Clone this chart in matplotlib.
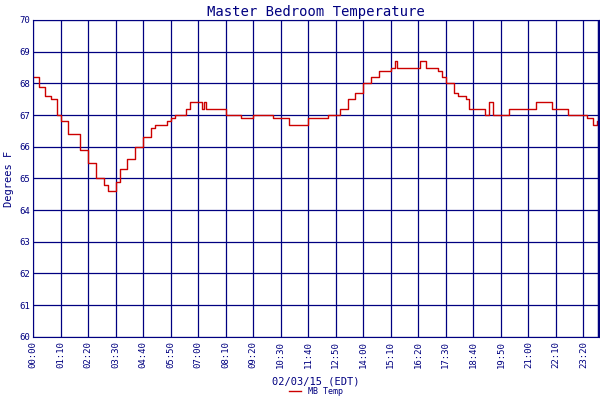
import matplotlib
matplotlib.use("Agg")
import matplotlib.pyplot as plt

times = ["00:00","00:15","00:30","00:45","01:00","01:10","01:30","02:00","02:20","02:40","03:00","03:10","03:20","03:30","03:40","04:00","04:20","04:40","05:00","05:10","05:40","05:50","06:00","06:30","06:40","07:00","07:10","07:15","07:20","08:00","08:10","08:40","08:50","09:20","10:00","10:10","10:40","10:50","11:30","11:40","12:20","12:30","12:50","13:00","13:20","13:40","14:00","14:20","14:40","15:00","15:10","15:20","15:25","16:20","16:25","16:35","16:40","17:10","17:20","17:30","17:50","18:00","18:20","18:30","19:00","19:10","19:20","19:30","20:00","20:10","21:00","21:20","21:50","22:00","22:40","23:00","23:30","23:45","23:55","23:59"]
temps = [68.2,67.9,67.6,67.5,67.0,66.8,66.4,65.9,65.5,65.0,64.8,64.6,64.6,64.9,65.3,65.6,66.0,66.3,66.6,66.7,66.8,66.9,67.0,67.2,67.4,67.4,67.2,67.4,67.2,67.2,67.0,67.0,66.9,67.0,67.0,66.9,66.9,66.7,66.7,66.9,66.9,67.0,67.0,67.2,67.5,67.7,68.0,68.2,68.4,68.4,68.5,68.7,68.5,68.5,68.7,68.7,68.5,68.4,68.2,68.0,67.7,67.6,67.5,67.2,67.2,67.0,67.4,67.0,67.0,67.2,67.2,67.4,67.4,67.2,67.0,67.0,66.9,66.7,66.8,66.8]
tick_labels = ["00:00","01:10","02:20","03:30","04:40","05:50","07:00","08:10","09:20","10:30","11:40","12:50","14:00","15:10","16:20","17:30","18:40","19:50","21:00","22:10","23:20"]

def mins(s):
    h, m = s.split(":"); return int(h)*60+int(m)

x = [mins(t) for t in times]
navy = "#000080"
plt.rcParams['font.family'] = ['DejaVu Sans Mono']
fig = plt.figure(figsize=(6,4), dpi=100)
ax = fig.add_axes([0.055, 0.158, 0.943, 0.792])
ax.step(x, temps, where='post', color='#cc0000', lw=1.0, label='MB Temp')
ax.set_xlim(0, 1439)
ax.set_ylim(60, 70)
ax.set_yticks(range(60, 71))
ax.set_xticks([mins(t) for t in tick_labels])
ax.set_xticklabels(tick_labels, rotation=90, fontsize=6.5, color=navy)
ax.tick_params(axis='y', labelsize=6.5, labelcolor=navy, length=0, pad=2)
ax.tick_params(axis='x', length=0, pad=3)
ax.grid(True, color=navy, lw=0.9)
for s in ax.spines.values():
    s.set_color(navy)
ax.axvline(1439, color=navy, lw=2.5)
ax.set_title("Master Bedroom Temperature", color=navy, fontsize=10, pad=3)
ax.set_ylabel("Degrees F", color=navy, fontsize=7.5)
ax.set_xlabel("02/03/15 (EDT)", color=navy, fontsize=7.5, labelpad=6)
ax.legend(loc='lower center', bbox_to_anchor=(0.5, -0.2), bbox_transform=ax.transAxes,
          frameon=False, fontsize=6, handlelength=1.5, labelcolor=navy, borderpad=0)
fig.savefig("out.png", dpi=100)
